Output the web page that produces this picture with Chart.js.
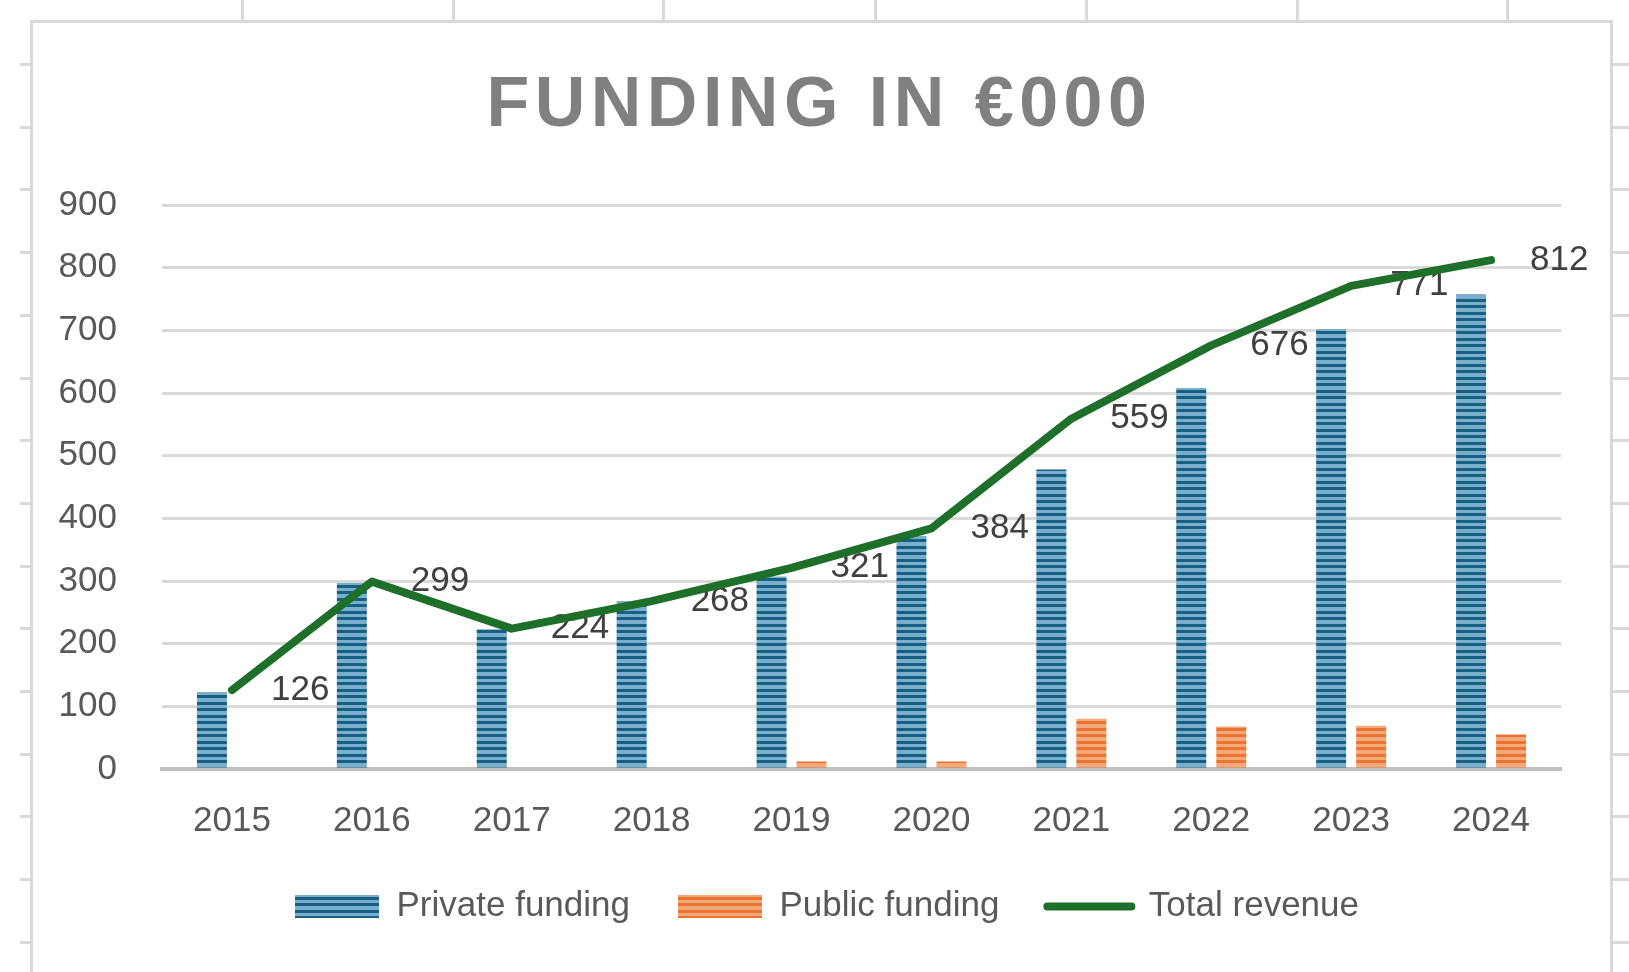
<!DOCTYPE html>
<html>
<head>
<meta charset="utf-8">
<script src="https://cdn.jsdelivr.net/npm/chart.js@4.4.1/dist/chart.umd.min.js"></script>
<style>
  html, body { margin: 0; padding: 0; background: #ffffff; }
  body { width: 1629px; height: 972px; position: relative; overflow: hidden;
         font-family: "Liberation Sans", Arial, sans-serif; }
  .sheet-line { position: absolute; background: #d9d9d9; }
  .frame { position: absolute; left: 30px; top: 20px; width: 1583px; height: 1000px;
           border: 3px solid #d9d9d9; box-sizing: border-box; background: #ffffff; }
  .title { position: absolute; left: 0; top: 67px; width: 1634px; text-align: center;
           font-family: "Liberation Sans", Arial, sans-serif; font-weight: bold;
           font-size: 70px; line-height: 70px; letter-spacing: 5.5px; padding-left: 5px;
           box-sizing: border-box; color: #808080; z-index: 3; }
  #chart { position: absolute; left: 0; top: 0; z-index: 2; }
</style>
</head>
<body>
<div id="decor"></div>
<div class="frame"></div>
<div class="title">FUNDING IN €000</div>
<canvas id="chart" width="1629" height="972"></canvas>
<script>
// ---- data ----
const categories = ['2015', '2016', '2017', '2018', '2019', '2020', '2021', '2022', '2023', '2024'];
const privateFunding = [123, 297, 223, 268, 307, 372, 478, 608, 702, 757];
const publicFunding  = [0, 0, 0, 0, 12, 12, 80, 68, 69, 55];
const totalRevenue   = [126, 299, 224, 268, 321, 384, 559, 676, 771, 812];
const seriesNames    = ['Private funding', 'Public funding', 'Total revenue'];
const yMin = 0, yMax = 900, yStep = 100;

// ---- spreadsheet background decoration ----
(function () {
  const decor = document.getElementById('decor');
  const colXs = [242, 453, 663, 875, 1086, 1297, 1507];
  colXs.forEach(x => {
    const d = document.createElement('div');
    d.className = 'sheet-line';
    d.style.cssText = `left:${x - 1}px;top:0;width:3px;height:21px;`;
    decor.appendChild(d);
  });
  for (let y = 64; y < 972; y += 62.7) {
    const l = document.createElement('div');
    l.className = 'sheet-line';
    l.style.cssText = `left:20px;top:${Math.round(y) - 1}px;width:12px;height:3px;`;
    decor.appendChild(l);
    const r = document.createElement('div');
    r.className = 'sheet-line';
    r.style.cssText = `left:1612px;top:${Math.round(y) - 1}px;width:17px;height:3px;`;
    decor.appendChild(r);
  }
})();

// ---- stripe patterns ----
function stripePattern(dark, light) {
  const c = document.createElement('canvas');
  c.width = 8; c.height = 13;
  const g = c.getContext('2d');
  g.fillStyle = light; g.fillRect(0, 0, 8, 13);
  g.fillStyle = dark; g.fillRect(0, 0, 8, 3); g.fillRect(0, 6, 8, 3);
  return g.createPattern(c, 'repeat');
}
const ctx = document.getElementById('chart').getContext('2d');
const bluePattern = stripePattern('#195f83', '#78afcc');
const orangePattern = stripePattern('#ea7432', '#f4a97a');
const green = '#1d6f29';

// ---- data labels for the line ----
const lineLabels = {
  id: 'lineLabels',
  beforeDatasetsDraw(chart) {
    const meta = chart.getDatasetMeta(2);
    const c = chart.ctx;
    c.save();
    c.font = '35px "Liberation Sans", Arial, sans-serif';
    c.fillStyle = '#404040';
    c.textAlign = 'left';
    c.textBaseline = 'middle';
    meta.data.forEach((pt, i) => {
      c.fillText(String(totalRevenue[i]), pt.x + 39, pt.y);
    });
    c.restore();
  }
};

new Chart(ctx, {
  data: {
    labels: categories,
    datasets: [
      { type: 'bar', label: seriesNames[0], data: privateFunding, backgroundColor: bluePattern,
        categoryPercentage: 0.572, barPercentage: 0.75, order: 1 },
      { type: 'bar', label: seriesNames[1], data: publicFunding, backgroundColor: orangePattern,
        categoryPercentage: 0.572, barPercentage: 0.75, order: 1 },
      { type: 'line', label: seriesNames[2], data: totalRevenue, borderColor: green,
        backgroundColor: green, borderWidth: 8, pointRadius: 0, tension: 0,
        borderJoinStyle: 'round', borderCapStyle: 'round', order: 0 }
    ]
  },
  options: {
    responsive: false,
    devicePixelRatio: 1,
    animation: false,
    events: [],
    layout: { padding: { left: 42, right: 17, top: 205, bottom: 38 } },
    scales: {
      x: {
        offset: true,
        grid: { display: false },
        border: { display: true, color: '#bfbfbf', width: 4 },
        ticks: { color: '#595959', padding: 23,
                 font: { family: '"Liberation Sans", Arial, sans-serif', size: 35 } },
        afterFit(scale) { scale.height = 72; }
      },
      y: {
        min: yMin, max: yMax,
        ticks: { stepSize: yStep, color: '#595959', padding: 45,
                 font: { family: '"Liberation Sans", Arial, sans-serif', size: 35 } },
        grid: { color: '#d9d9d9', lineWidth: 3, drawTicks: false },
        border: { display: false },
        afterFit(scale) { scale.width = 120; }
      },
      yRightSpace: {
        type: 'linear',
        position: 'right',
        min: yMin, max: yMax,
        grid: { display: false, drawTicks: false },
        border: { display: false },
        ticks: { display: false },
        afterFit(scale) { scale.width = 51; }
      }
    },
    plugins: {
      title: { display: false },
      tooltip: { enabled: false },
      legend: {
        position: 'bottom',
        labels: {
          usePointStyle: true,
          pointStyleWidth: 84,
          boxHeight: 23,
          padding: 48,
          color: '#595959',
          font: { family: '"Liberation Sans", Arial, sans-serif', size: 35 },
          generateLabels(chart) {
            return chart.data.datasets.map((ds, i) => ({
              text: ds.label,
              fillStyle: ds.type === 'line' ? green : ds.backgroundColor,
              strokeStyle: ds.type === 'line' ? green : 'rgba(0,0,0,0)',
              lineWidth: ds.type === 'line' ? 8 : 0,
              lineCap: 'round',
              pointStyle: ds.type === 'line' ? 'line' : 'rect',
              fontColor: '#595959',
              hidden: false,
              datasetIndex: i
            }));
          }
        }
      }
    }
  },
  plugins: [lineLabels]
});
</script>
</body>
</html>
